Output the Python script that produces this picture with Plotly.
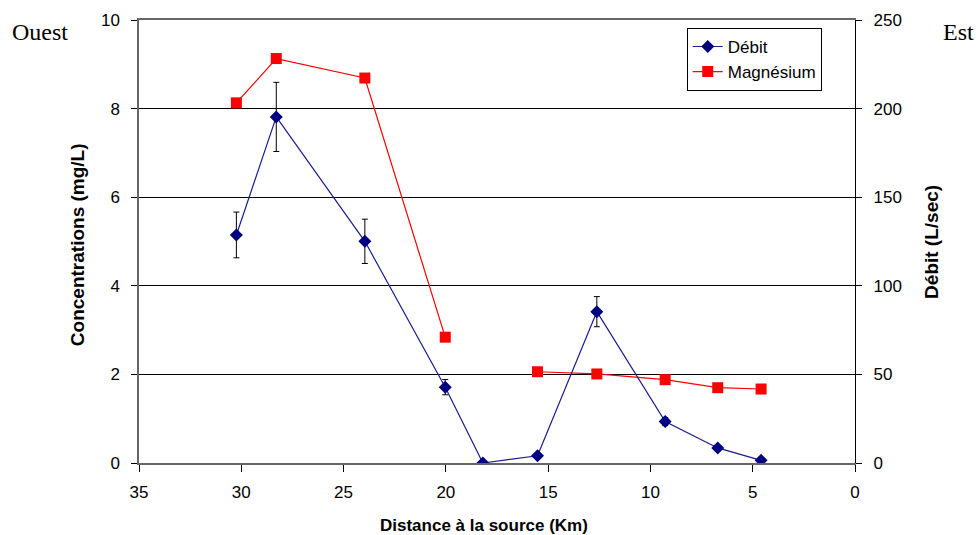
import plotly.graph_objects as go

# Data
distance_km = [30.24, 28.29, 23.96, 20.03, 18.19, 15.52, 12.62, 9.28, 6.71, 4.59]
debit_l_s = [128.7, 195.3, 125.1, 42.8, 0.0, 4.1, 85.4, 23.4, 8.5, 1.5]
debit_err = [12.9, 19.5, 12.5, 4.3, 0.0, 0.4, 8.5, 2.3, 0.8, 0.15]
magnesium_mg_l = [8.13, 9.13, 8.69, 2.84, None, 2.06, 2.01, 1.88, 1.70, 1.67]

x_ticks = [35, 30, 25, 20, 15, 10, 5, 0]
y_left_ticks = [0, 2, 4, 6, 8, 10]
y_right_ticks = [0, 50, 100, 150, 200, 250]

FONT = "Liberation Sans, Arial, sans-serif"
SERIF = "Liberation Serif, Times New Roman, serif"

fig = go.Figure()

fig.add_trace(go.Scatter(
    x=distance_km, y=debit_l_s, name="Débit", yaxis="y2",
    mode="lines+markers",
    line=dict(color="#1c1c8e", width=1.2),
    marker=dict(symbol="diamond", size=10, color="#000080"),
    error_y=dict(type="data", array=debit_err, visible=True,
                 color="black", thickness=1, width=3),
))
fig.add_trace(go.Scatter(
    x=distance_km, y=magnesium_mg_l, name="Magnésium", yaxis="y",
    mode="lines+markers", connectgaps=False,
    line=dict(color="#ff0000", width=1.2),
    marker=dict(symbol="square", size=11, color="#ff0000"),
))

fig.update_layout(
    width=980, height=535,
    margin=dict(l=139, r=125, t=20, b=72),
    paper_bgcolor="white", plot_bgcolor="white",
    font=dict(family=FONT, size=17, color="black"),
    showlegend=True,
    legend=dict(x=0.765, y=0.982, xanchor="left", yanchor="top",
                bgcolor="white", bordercolor="black", borderwidth=1,
                font=dict(family=FONT, size=17), tracegroupgap=0,
                itemwidth=30),
    xaxis=dict(range=[35, 0], tickvals=x_ticks, ticktext=[str(v) for v in x_ticks],
               showgrid=False, zeroline=False,
               showline=True, mirror=True, linecolor="#666666", linewidth=1.5,
               ticks="outside", ticklen=7, tickcolor="black",
               ticklabelstandoff=6),
    yaxis=dict(range=[0, 10], tickvals=y_left_ticks,
               showgrid=True, gridcolor="black", gridwidth=1,
               zeroline=False, showline=True, linecolor="#666666", linewidth=1.5,
               ticks="outside", ticklen=6, tickcolor="black",
               ticklabelstandoff=8),
    yaxis2=dict(range=[0, 250], tickvals=y_right_ticks, overlaying="y", side="right",
                showgrid=False, zeroline=False, showline=True,
                linecolor="black", linewidth=1.2,
                ticks="outside", ticklen=6, tickcolor="black",
                ticklabelstandoff=8),
    annotations=[
        dict(text="<b>Concentrations (mg/L)</b>", xref="paper", yref="paper",
             x=-0.0866, y=0.494, xanchor="center", yanchor="middle",
             textangle=-90, showarrow=False, font=dict(family=FONT, size=19)),
        dict(text="<b>Débit (L/sec)</b>", xref="paper", yref="paper",
             x=1.1075, y=0.499, xanchor="center", yanchor="middle",
             textangle=-90, showarrow=False, font=dict(family=FONT, size=19)),
        dict(text="<b>Distance à la source (Km)</b>", xref="paper", yref="paper",
             x=0.4818, y=-0.14, xanchor="center", yanchor="middle",
             showarrow=False, font=dict(family=FONT, size=17)),
        dict(text="Ouest", xref="paper", yref="paper",
             x=-0.1383, y=0.973, xanchor="center", yanchor="middle",
             showarrow=False, font=dict(family=SERIF, size=24)),
        dict(text="Est", xref="paper", yref="paper",
             x=1.145, y=0.973, xanchor="center", yanchor="middle",
             showarrow=False, font=dict(family=SERIF, size=24)),
    ],
)

fig.write_html(
    "out.html",
    config={"displayModeBar": False},
    post_script="document.body.style.margin='0';document.body.style.overflow='hidden';",
)
